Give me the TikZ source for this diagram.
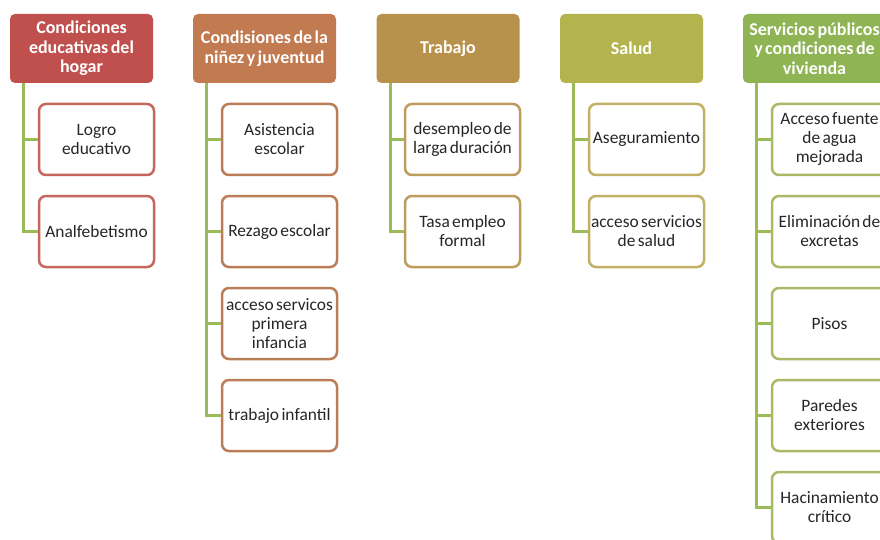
\documentclass[tikz,border=0pt]{standalone}
\usepackage{fontspec}
\setmainfont{Carlito}[WordSpace=0.6]
\definecolor{h1}{HTML}{C0504D}
\definecolor{h2}{HTML}{C27A50}
\definecolor{h3}{HTML}{B8924C}
\definecolor{h4}{HTML}{B4B44E}
\definecolor{h5}{HTML}{8FB453}
\definecolor{b1}{HTML}{C4675C}
\definecolor{b2}{HTML}{B97E57}
\definecolor{b3}{HTML}{BE9C5E}
\definecolor{b4}{HTML}{C2B064}
\definecolor{b5}{HTML}{A9BA66}
\definecolor{ln}{HTML}{9BBB59}
\definecolor{txt}{HTML}{262626}
\tikzset{
  head/.style={draw=none, fill=#1, rounded corners=5pt, minimum width=143pt, minimum height=69pt,
    align=center, text=white, font=\fontsize{18}{19.5}\selectfont\bfseries, inner sep=0pt},
  child/.style={draw=#1, line width=2.5pt, fill=white, rounded corners=7pt, minimum width=115pt, minimum height=71pt,
    align=center, text=txt, font=\fontsize{17.4}{19}\selectfont, inner sep=0pt},
  conn/.style={draw=ln, line width=3pt}
}
\begin{document}
\begin{tikzpicture}[x=1pt,y=-1pt]
\useasboundingbox (0,0) rectangle (880,540);
\clip (0,0) rectangle (880,540);
\fill[white] (0,0) rectangle (880,540);
% headers
\node[head=h1] (H1) at (81.5,48.5) {Condiciones\\educativas del\\hogar};
\node[head=h2] (H2) at (264.5,48.5) {Condisiones de la\\niñez y juventud};
\node[head=h3] (H3) at (448,48.5) {Trabajo};
\node[head=h4] (H4) at (631.5,48.5) {Salud};
\node[head=h5] (H5) at (814.5,48.5) {Servicios públicos\\y condiciones de\\vivienda};
% column 1
\node[child=b1] (A1) at (96.5,139.5) {Logro\\educativo};
\node[child=b1] (A2) at (96.5,231.5) {Analfebetismo};
% column 2
\node[child=b2] (B1) at (279.5,139.5) {Asistencia\\escolar};
\node[child=b2] (B2) at (279.5,231.5) {Rezago escolar};
\node[child=b2] (B3) at (279.5,323.5) {acceso servicos\\primera\\infancia};
\node[child=b2] (B4) at (279.5,415.5) {trabajo infantil};
% column 3
\node[child=b3] (C1) at (462.5,139.5) {desempleo de\\larga duración};
\node[child=b3] (C2) at (462.5,231.5) {Tasa empleo\\formal};
% column 4
\node[child=b4] (D1) at (646.5,139.5) {Aseguramiento};
\node[child=b4] (D2) at (646.5,231.5) {acceso servicios\\de salud};
% column 5
\node[child=b5] (E1) at (829.5,139.5) {Acceso fuente\\de agua\\mejorada};
\node[child=b5] (E2) at (829.5,231.5) {Eliminación de\\excretas};
\node[child=b5] (E3) at (829.5,323.5) {Pisos};
\node[child=b5] (E4) at (829.5,415.5) {Paredes\\exteriores};
\node[child=b5] (E5) at (829.5,507.5) {Hacinamiento\\crítico};
% connectors
\draw[conn] (H1.south west) ++(14,0) |- (A2.west);
\draw[conn] (H1.south west) ++(14,0) |- (A1.west);
\draw[conn] (H2.south west) ++(14,0) |- (B4.west);
\draw[conn] (H2.south west) ++(14,0) |- (B3.west);
\draw[conn] (H2.south west) ++(14,0) |- (B2.west);
\draw[conn] (H2.south west) ++(14,0) |- (B1.west);
\draw[conn] (H3.south west) ++(14,0) |- (C2.west);
\draw[conn] (H3.south west) ++(14,0) |- (C1.west);
\draw[conn] (H4.south west) ++(14,0) |- (D2.west);
\draw[conn] (H4.south west) ++(14,0) |- (D1.west);
\draw[conn] (H5.south west) ++(14,0) |- (E5.west);
\draw[conn] (H5.south west) ++(14,0) |- (E4.west);
\draw[conn] (H5.south west) ++(14,0) |- (E3.west);
\draw[conn] (H5.south west) ++(14,0) |- (E2.west);
\draw[conn] (H5.south west) ++(14,0) |- (E1.west);
\end{tikzpicture}
\end{document}
